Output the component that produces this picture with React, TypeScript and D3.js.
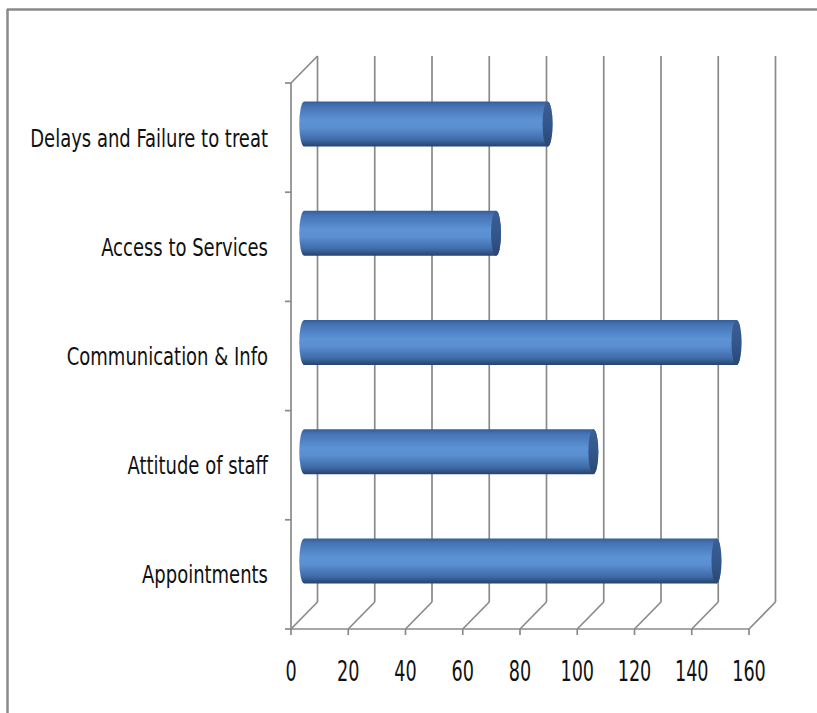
import React from "react";
import * as d3 from "d3";

const categories = [
  "Delays and Failure to treat",
  "Access to Services",
  "Communication & Info",
  "Attitude of staff",
  "Appointments",
];
const values = [85, 67, 151, 101, 144];
const xTicks = [0, 20, 40, 60, 80, 100, 120, 140, 160];

const W = 817;
const H = 713;
const DX = 26.5;
const DY = -27;
const FONT = "'DejaVu Sans Condensed', 'Liberation Sans Narrow', sans-serif";

export default function App() {
  const x = d3.scaleLinear().domain([0, 160]).range([291, 749]);
  const y = d3.scaleBand<string>().domain(categories).range([83, 629]).padding(0);
  const bottom = 629;
  const top = 83;
  const grid = "#8a8a8a";
  const barH = y.bandwidth() * 0.412;
  const rx = 5;

  const boundaries = [...categories.map((c) => y(c) as number), bottom];

  return (
    <svg width={W} height={H} style={{ position: "absolute", left: 0, top: 0, background: "#fff" }}>
      <defs>
        <linearGradient id="cyl" x1="0" y1="0" x2="0" y2="1">
          <stop offset="0" stopColor="#355d98" />
          <stop offset="0.1" stopColor="#4573b4" />
          <stop offset="0.42" stopColor="#5c93d5" />
          <stop offset="0.58" stopColor="#5a8fd1" />
          <stop offset="0.85" stopColor="#3f6aa8" />
          <stop offset="1" stopColor="#26426c" />
        </linearGradient>
        <linearGradient id="cap" x1="0" y1="0" x2="0" y2="1">
          <stop offset="0" stopColor="#3a5f96" />
          <stop offset="0.5" stopColor="#34578b" />
          <stop offset="1" stopColor="#2a4772" />
        </linearGradient>
      </defs>

      {/* outer border */}
      <line x1={7} y1={9.5} x2={W} y2={9.5} stroke="#8a8a8a" strokeWidth={2.5} />
      <line x1={7.5} y1={9} x2={7.5} y2={H} stroke="#8a8a8a" strokeWidth={2.5} />

      {/* back wall gridlines and floor diagonals */}
      {xTicks.map((t) => (
        <g key={"g" + t}>
          <line x1={x(t) + DX} y1={top + DY} x2={x(t) + DX} y2={bottom + DY} stroke={grid} strokeWidth={1.7} />
          <line x1={x(t)} y1={bottom} x2={x(t) + DX} y2={bottom + DY} stroke={grid} strokeWidth={1.7} />
          <line x1={x(t)} y1={bottom} x2={x(t)} y2={bottom + 6} stroke={grid} strokeWidth={1.7} />
        </g>
      ))}
      {/* left wall */}
      <line x1={x(0)} y1={top} x2={x(0)} y2={bottom} stroke={grid} strokeWidth={1.7} />
      <line x1={x(0)} y1={top} x2={x(0) + DX} y2={top + DY} stroke={grid} strokeWidth={1.7} />
      {/* floor front */}
      <line x1={x(0)} y1={bottom} x2={x(160)} y2={bottom} stroke={grid} strokeWidth={1.7} />
      {boundaries.map((b, i) => (
        <line key={"t" + i} x1={x(0) - 6} y1={b} x2={x(0)} y2={b} stroke={grid} strokeWidth={1.7} />
      ))}

      {/* bars */}
      {categories.map((c, i) => {
        const cy = (y(c) as number) + y.bandwidth() / 2 + DY / 2;
        const x0 = x(0) + DX / 2;
        const x1 = x(values[i]) + DX / 2;
        const t = cy - barH / 2;
        const b = cy + barH / 2;
        const ry = barH / 2;
        const d = `M${x0},${t} L${x1},${t} A${rx},${ry} 0 0 1 ${x1},${b} L${x0},${b} A${rx},${ry} 0 0 1 ${x0},${t} Z`;
        return (
          <g key={c}>
            <path d={d} fill="url(#cyl)" />
            <ellipse cx={x1} cy={cy} rx={rx} ry={ry} fill="url(#cap)" />
          </g>
        );
      })}

      {/* category labels */}
      {categories.map((c) => (
        <text
          key={"l" + c}
          transform={`translate(268,${(y(c) as number) + y.bandwidth() / 2}) scale(0.8,1)`}
          dy="0.36em"
          textAnchor="end"
          fontFamily={FONT}
          fontSize={25}
          fill="#111"
        >
          {c}
        </text>
      ))}

      {/* tick labels */}
      {xTicks.map((t) => (
        <text
          key={"x" + t}
          transform={`translate(${x(t)},681) scale(0.7,1)`}
          textAnchor="middle"
          fontFamily={FONT}
          fontSize={28}
          fill="#111"
        >
          {t}
        </text>
      ))}
    </svg>
  );
}
